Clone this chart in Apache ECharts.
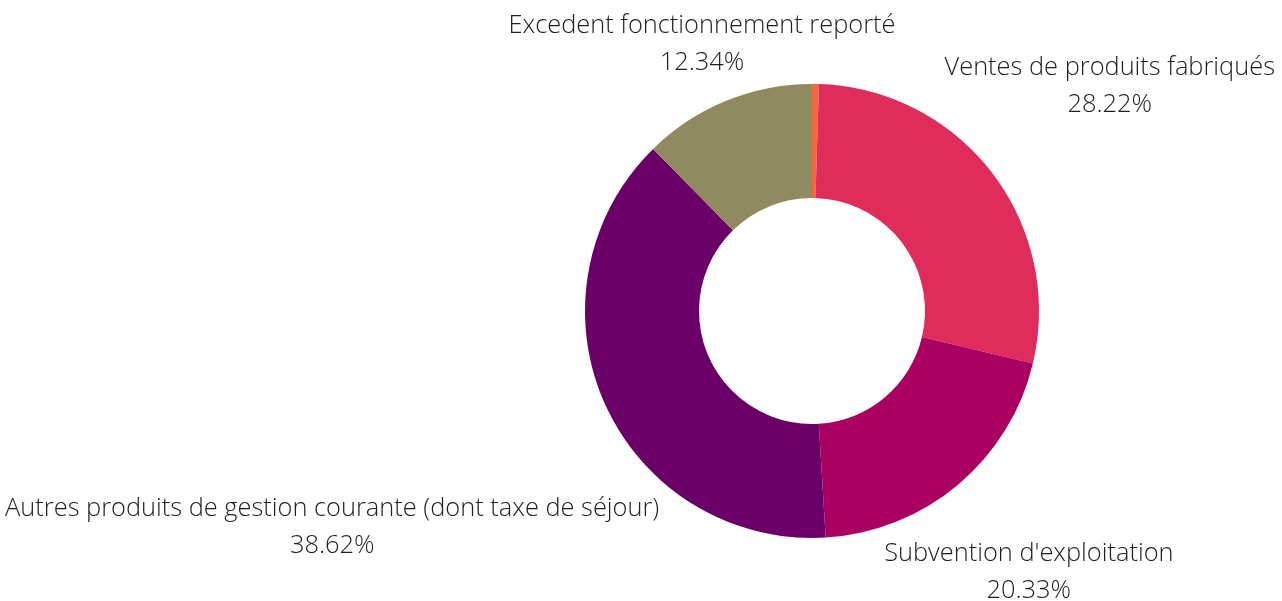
<!DOCTYPE html>
<html>
<head>
<meta charset="utf-8">
<script src="https://cdn.jsdelivr.net/npm/echarts@6/dist/echarts.min.js"></script>
<style>
html,body{margin:0;padding:0;background:#fff;}
#chart{width:1282px;height:601px;}
</style>
</head>
<body>
<div id="chart"></div>
<script>
var categories = ['Autre', 'Ventes de produits fabriqués', "Subvention d'exploitation", 'Autres produits de gestion courante (dont taxe de séjour)', 'Excedent fonctionnement reporté'];
var values = [0.49, 28.22, 20.33, 38.62, 12.34];
var colors = ['#f2673f', '#df2c5b', '#a90062', '#6a0067', '#8f8a5f'];
var showLabel = [false, true, true, true, true];

// distance of each label centre from the pie centre (style)
var labelDistance = [300, 375, 337, 525, 291];
var CX = 812, CY = 311;

var chart = echarts.init(document.getElementById('chart'), null, {renderer: 'canvas'});
var data = categories.map(function (c, i) {
  return {
    name: c,
    value: values[i],
    itemStyle: {color: colors[i]},
    label: {show: showLabel[i]}
  };
});

chart.setOption({
  animation: false,
  backgroundColor: '#ffffff',
  series: [{
    type: 'pie',
    center: [CX, CY],
    radius: [113, 227],
    startAngle: 90,
    clockwise: true,
    avoidLabelOverlap: false,
    data: data,
    label: {
      position: 'inside',
      color: '#1e1e1e',
      fontFamily: 'Open Sans',
      fontWeight: 300,
      fontSize: 25.4,
      lineHeight: 37,
      align: 'center',
      verticalAlign: 'middle',
      formatter: function (p) { return p.name + '\n' + p.value.toFixed(2) + '%'; }
    },
    labelLine: {show: false},
    labelLayout: function (params) {
      var r = params.labelRect;
      var lx = r.x + r.width / 2, ly = r.y + r.height / 2;
      var dx = lx - CX, dy = ly - CY;
      var len = Math.sqrt(dx * dx + dy * dy) || 1;
      var d = labelDistance[params.dataIndex];
      return {
        x: CX + dx / len * d,
        y: CY + dy / len * d + 3,
        align: 'center',
        verticalAlign: 'middle'
      };
    }
  }]
});
</script>
</body>
</html>
